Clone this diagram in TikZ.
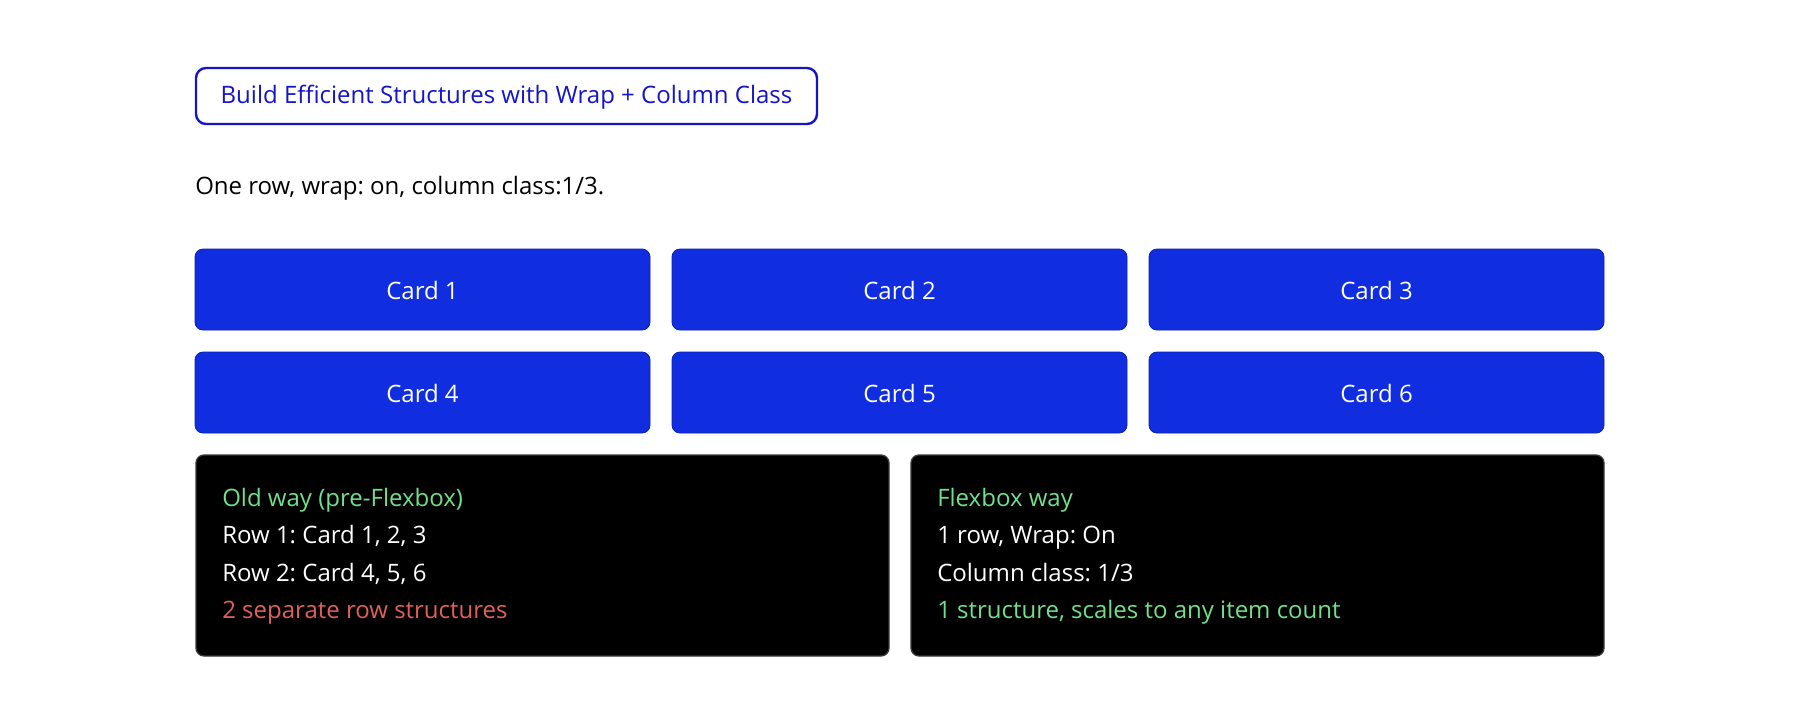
\documentclass[tikz,border=0pt]{standalone}
\usepackage{fontspec}
\setmainfont{Open Sans}
\usetikzlibrary{calc}
\frenchspacing
\definecolor{titleblue}{HTML}{1414C8}
\definecolor{cardblue}{HTML}{102EE0}
\definecolor{cardedge}{HTML}{0A20B0}
\definecolor{okgreen}{HTML}{70E08C}
\definecolor{badred}{HTML}{E0605C}
\definecolor{boxedge}{HTML}{3A3A3A}
\begin{document}
\begin{tikzpicture}[x=0.75pt,y=-0.75pt,
  txt/.style={font=\fontsize{18}{22}\selectfont\frenchspacing, inner sep=0pt},
  titlebox/.style={draw=titleblue, line width=1.8pt, rounded corners=7.5pt, fill=white},
  card/.style={draw=cardedge, line width=0.6pt, fill=cardblue, rounded corners=6pt},
  dark/.style={draw=boxedge, line width=1pt, fill=black, rounded corners=6pt},
  line/.style={txt, anchor=mid west}]
\useasboundingbox (0,0) rectangle (1800,722);
\fill[white] (0,0) rectangle (1800,722);
% title
\draw[titlebox] (196,68) rectangle (817,124);
\node[txt, text=titleblue] (title) at (506.5,97) {Build Efficient Structures with Wrap + Column Class};
\node[line] (sub) at (195,191) {One row, wrap: on, column class:1/3.};
% cards
\foreach \i/\x/\y in {1/195/249, 2/672/249, 3/1149/249, 4/195/352, 5/672/352, 6/1149/352} {
  \draw[card] (\x,\y) rectangle ++(455,81);
  \node[txt, text=white] (card\i) at ($(\x,\y)+(227.5,41.5)$) {Card \i};
}
% dark boxes
\draw[dark] (196,455) rectangle (889,656);
\draw[dark] (911,455) rectangle (1604,656);
\node[line, text=okgreen] (o1) at (222,503) {Old way (pre-Flexbox)};
\node[line, text=white] (o2) at (222,540) {Row 1: Card 1, 2, 3};
\node[line, text=white] (o3) at (222,578) {Row 2: Card 4, 5, 6};
\node[line, text=badred] (o4) at (222,615) {2 separate row structures};
\node[line, text=okgreen] (f1) at (937,503) {Flexbox way};
\node[line, text=white] (f2) at (937,540) {1 row, Wrap: On};
\node[line, text=white] (f3) at (937,578) {Column class: 1/3};
\node[line, text=okgreen] (f4) at (937,615) {1 structure, scales to any item count};
\end{tikzpicture}
\end{document}
